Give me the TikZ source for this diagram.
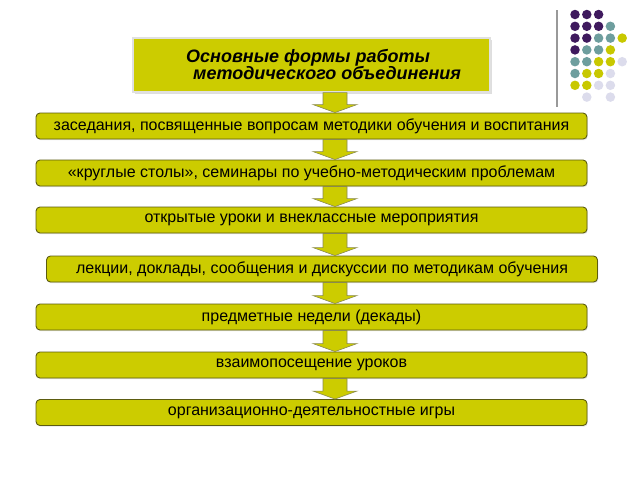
\documentclass[tikz,border=0pt]{standalone}
\usepackage{fontspec}
\setmainfont{Liberation Sans}
\usetikzlibrary{shadows,calc}
\definecolor{boxfill}{HTML}{CCCC00}
\definecolor{boxline}{HTML}{5C5C10}
\definecolor{arrline}{HTML}{8A8A50}
\definecolor{dpurple}{HTML}{3F1A5E}
\definecolor{dteal}{HTML}{6E9E9E}
\definecolor{dyellow}{HTML}{C8C800}
\definecolor{dlav}{HTML}{DCDCEC}
\tikzset{
  stepbox/.style={draw=boxline, line width=0.9pt, fill=boxfill, rounded corners=4pt,
    minimum width=551pt, minimum height=26pt, inner sep=0pt,
    font=\fontsize{16}{18}\selectfont,
    drop shadow={shadow xshift=0.8pt, shadow yshift=-1.2pt, fill=black!20}},
  titlebox/.style={draw=black!12, line width=1.2pt, fill=boxfill,
    minimum width=357pt, minimum height=54pt, inner sep=0pt,
    drop shadow={shadow xshift=2pt, shadow yshift=-2pt, fill=black!25}},
  titletext/.style={font=\fontsize{18}{17}\selectfont\bfseries\itshape, align=left, inner sep=0pt},
  blockarrow/.style={draw=arrline, line width=0.6pt, fill=boxfill,
    to path={let \p1=(\tikztostart), \p2=(\tikztotarget) in
      (\x1-12pt,\y1) -- (\x1-12pt,\y2+8pt) -- (\x1-22pt,\y2+8pt) -- (\x1,\y2)
      -- (\x1+22pt,\y2+8pt) -- (\x1+12pt,\y2+8pt) -- (\x1+12pt,\y1) -- cycle}},
  dot/.style={circle, inner sep=0pt, minimum size=9.5pt}
}
\begin{document}
\begin{tikzpicture}[x=1pt,y=-1pt]
\useasboundingbox[fill=white] (0,0) rectangle (640,480);
% decoration
\draw[black!40, line width=1.4pt] (557,10) -- (557,107);
\foreach \c/\r/\col in {0/0/dpurple,1/0/dpurple,2/0/dpurple,
  0/1/dpurple,1/1/dpurple,2/1/dpurple,3/1/dteal,
  0/2/dpurple,1/2/dpurple,2/2/dteal,3/2/dteal,4/2/dyellow,
  0/3/dpurple,1/3/dteal,2/3/dteal,3/3/dyellow,
  0/4/dteal,1/4/dteal,2/4/dyellow,3/4/dyellow,4/4/dlav,
  0/5/dteal,1/5/dyellow,2/5/dyellow,3/5/dlav,
  0/6/dyellow,1/6/dyellow,2/6/dlav,3/6/dlav,
  1/7/dlav,3/7/dlav}
  \node[dot, fill=\col] (d\c\r) at (575+11.8*\c, 14.5+11.8*\r) {};
% title
\node[titlebox] (title) at (311.5,65) {};
\node[titletext, anchor=west] (titletxt) at (186,64) {Основные формы работы\\\hspace*{7pt}методического объединения};
% boxes
\node[stepbox] (b1) at (311.5,126) {заседания, посвященные вопросам методики обучения и воспитания};
\node[stepbox] (b2) at (311.5,173) {«круглые столы», семинары по учебно-методическим проблемам};
\node[stepbox] (b3) at (311.5,220) {открытые уроки и внеклассные мероприятия};
\node[stepbox] (b4) at (322,269) {лекции, доклады, сообщения и дискуссии по методикам обучения};
\node[stepbox] (b5) at (311.5,317) {предметные недели (декады)};
\node[stepbox] (b6) at (311.5,365) {взаимопосещение уроков};
\node[stepbox] (b7) at (311.5,412.5) {организационно-деятельностные игры};
% arrows
\coordinate (ax) at (335,0);
\draw[blockarrow] (title.south -| ax) to (b1.north -| ax);
\draw[blockarrow] (b1.south -| ax) to (b2.north -| ax);
\draw[blockarrow] (b2.south -| ax) to (b3.north -| ax);
\draw[blockarrow] (b3.south -| ax) to (b4.north -| ax);
\draw[blockarrow] (b4.south -| ax) to (b5.north -| ax);
\draw[blockarrow] (b5.south -| ax) to (b6.north -| ax);
\draw[blockarrow] (b6.south -| ax) to (b7.north -| ax);
\end{tikzpicture}
\end{document}
